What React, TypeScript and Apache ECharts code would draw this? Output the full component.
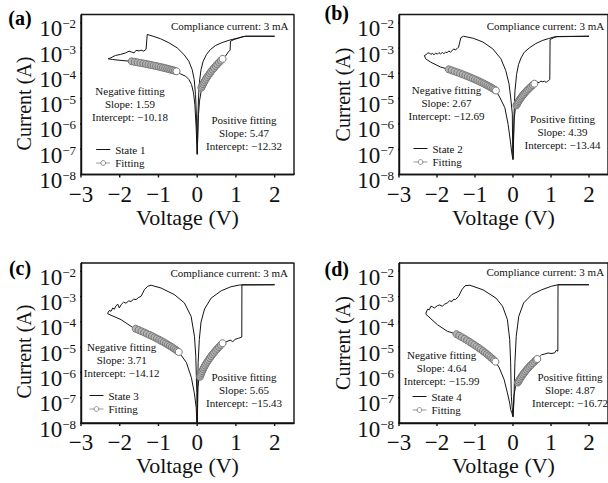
import React, { useEffect, useRef } from "react";
import * as echarts from "echarts";

// ---------- data (voltage in V, current given as log10(I / A)) ----------
const xTicks = [-3, -2, -1, 0, 1, 2];
const yTickExps = [-2, -3, -4, -5, -6, -7, -8];

const state1V = [0, 0.017, 0.034, 0.06, 0.095, 0.13, 0.203, 0.292, 0.397, 0.518, 0.608, 0.656, 0.73, 0.8, 0.85, 0.86, 0.95, 1.06, 1.16, 1.25, 2.0, 1.25, 1.0, 0.82, 0.645, 0.47, 0.34, 0.24, 0.155, 0.1, 0.06, 0.034, 0.017, 0.004, -0.004, -0.017, -0.043, -0.077, -0.13, -0.215, -0.344, -0.516, -0.73, -0.946, -1.12, -1.29, -1.32, -1.38, -1.45, -1.5, -1.58, -1.63, -1.7, -1.76, -1.85, -1.98, -2.11, -2.24, -2.3, -2.19, -1.94, -1.69, -1.464, -1.254, -1.0, -0.774, -0.533, -0.43, -0.3, -0.215, -0.146, -0.095, -0.06, -0.026, 0];
const state1LogI = [-7.2, -6.42, -5.63, -5.1, -4.77, -4.495, -4.282, -4.068, -3.854, -3.64, -3.498, -3.426, -3.32, -3.16, -3.08, -2.73, -2.66, -2.61, -2.55, -2.53, -2.53, -2.53, -2.62, -2.69, -2.78, -2.9, -3.06, -3.25, -3.52, -3.85, -4.31, -4.97, -5.89, -7.2, -7.2, -5.76, -4.84, -4.24, -3.85, -3.52, -3.25, -2.99, -2.79, -2.63, -2.54, -2.46, -3.05, -3.12, -3.08, -3.11, -3.09, -3.19, -3.15, -3.12, -3.19, -3.25, -3.29, -3.39, -3.42, -3.45, -3.49, -3.523, -3.586, -3.648, -3.731, -3.814, -3.917, -4.02, -4.11, -4.24, -4.44, -4.77, -5.23, -6.16, -7.2];

const state2V = [0, 0.017, 0.034, 0.06, 0.09, 0.13, 0.203, 0.292, 0.397, 0.476, 0.563, 0.64, 0.685, 0.73, 0.77, 0.83, 0.874, 0.91, 0.94, 0.968, 0.976, 1.07, 1.16, 2.0, 1.1, 0.94, 0.77, 0.6, 0.43, 0.3, 0.21, 0.146, 0.094, 0.051, 0.026, 0.009, 0, -0.009, -0.018, -0.062, -0.105, -0.19, -0.319, -0.532, -0.789, -1.046, -1.303, -1.373, -1.432, -1.47, -1.52, -1.56, -1.6, -1.648, -1.69, -1.73, -1.776, -1.82, -1.86, -1.905, -1.95, -1.99, -2.033, -2.08, -2.12, -2.162, -2.2, -2.247, -2.29, -2.332, -2.3, -2.16, -1.905, -1.69, -1.464, -1.254, -1.0, -0.774, -0.578, -0.449, -0.34, -0.214, -0.128, -0.069, -0.026, 0];
const state2LogI = [-7.34, -6.42, -5.76, -5.43, -5.265, -5.151, -4.979, -4.807, -4.636, -4.521, -4.407, -4.34, -4.37, -4.3, -4.33, -4.31, -4.36, -4.3, -4.28, -4.24, -2.66, -2.59, -2.54, -2.53, -2.55, -2.62, -2.7, -2.82, -2.99, -3.16, -3.39, -3.65, -4.04, -4.7, -5.63, -7.21, -7.41, -7.0, -5.6, -4.94, -4.41, -3.89, -3.42, -3.03, -2.76, -2.61, -2.53, -2.59, -2.96, -3.02, -3.07, -3.03, -3.1, -3.16, -3.11, -3.18, -3.16, -3.22, -3.17, -3.23, -3.18, -3.24, -3.2, -3.26, -3.21, -3.25, -3.19, -3.2, -3.26, -3.29, -3.42, -3.56, -3.75, -3.84, -3.96, -4.079, -4.239, -4.399, -4.558, -4.678, -4.97, -5.36, -6.02, -6.68, -7.21, -7.41];

const state3V = [0, 0.02, 0.04, 0.073, 0.13, 0.203, 0.292, 0.397, 0.518, 0.656, 0.765, 0.85, 0.92, 0.98, 1.065, 1.134, 1.152, 1.155, 2.0, 1.1, 0.87, 0.62, 0.36, 0.19, 0.1, 0.055, 0.025, 0.008, 0, -0.01, -0.036, -0.07, -0.157, -0.33, -0.589, -0.933, -1.19, -1.277, -1.364, -1.406, -1.45, -1.52, -1.579, -1.64, -1.708, -1.77, -1.84, -1.9, -1.966, -2.01, -2.05, -2.096, -2.14, -2.18, -2.225, -2.27, -2.31, -2.31, -1.966, -1.664, -1.513, -1.3, -1.04, -0.81, -0.608, -0.476, -0.28, -0.15, -0.07, -0.025, 0];
const state3LogI = [-8.3, -6.6, -6.3, -6.169, -5.948, -5.727, -5.506, -5.285, -5.064, -4.844, -4.78, -4.72, -4.78, -4.69, -4.65, -4.61, -4.6, -2.53, -2.53, -2.54, -2.61, -2.77, -3.06, -3.49, -4.0, -4.7, -5.6, -7.0, -8.3, -6.8, -5.36, -4.57, -3.78, -3.25, -2.92, -2.66, -2.55, -2.59, -2.73, -2.86, -2.99, -3.04, -3.12, -3.1, -3.19, -3.17, -3.26, -3.22, -3.32, -3.45, -3.3, -3.36, -3.5, -3.45, -3.58, -3.55, -3.65, -3.68, -3.91, -4.22, -4.32, -4.465, -4.659, -4.852, -5.046, -5.191, -5.6, -6.2, -6.85, -7.4, -8.3];

const state4V = [0, 0.023, 0.067, 0.13, 0.203, 0.292, 0.397, 0.518, 0.64, 0.753, 0.84, 0.923, 1.0, 1.095, 1.139, 1.18, 1.185, 2.0, 1.18, 1.01, 0.753, 0.496, 0.28, 0.152, 0.085, 0.05, 0.023, 0, -0.02, -0.044, -0.062, -0.087, -0.147, -0.275, -0.447, -0.79, -1.134, -1.262, -1.347, -1.39, -1.432, -1.519, -1.56, -1.604, -1.67, -1.73, -1.8, -1.86, -1.93, -1.99, -2.07, -2.12, -2.16, -2.203, -2.25, -2.29, -2.29, -1.99, -1.73, -1.488, -1.277, -1.082, -0.903, -0.74, -0.593, -0.462, -0.36, -0.234, -0.147, -0.087, -0.062, -0.03, 0];
const state4LogI = [-7.75, -6.94, -6.55, -6.4, -6.21, -6.019, -5.829, -5.639, -5.469, -5.3, -5.27, -5.23, -5.25, -5.23, -5.12, -5.16, -2.53, -2.53, -2.53, -2.59, -2.73, -2.92, -3.25, -3.78, -4.57, -5.62, -7.21, -7.75, -7.4, -6.94, -5.62, -4.7, -3.91, -3.38, -3.06, -2.73, -2.55, -2.57, -2.73, -2.86, -2.99, -3.12, -3.1, -3.19, -3.17, -3.25, -3.3, -3.38, -3.33, -3.36, -3.45, -3.4, -3.38, -3.52, -3.5, -3.65, -3.7, -4.11, -4.37, -4.486, -4.667, -4.849, -5.03, -5.211, -5.393, -5.574, -5.82, -6.28, -6.81, -7.21, -7.47, -7.6, -7.75];

const fit1NegV = [-1.69, -1.613, -1.538, -1.464, -1.392, -1.323, -1.254, -1.188, -1.124, -1.061, -1.0, -0.941, -0.884, -0.828, -0.774, -0.723, -0.672, -0.624, -0.578, -0.533];
const fit1NegLogI = [-3.523, -3.544, -3.565, -3.586, -3.606, -3.627, -3.648, -3.669, -3.689, -3.71, -3.731, -3.751, -3.772, -3.793, -3.814, -3.834, -3.855, -3.876, -3.896, -3.917];
const fit1PosV = [0.109, 0.13, 0.152, 0.176, 0.203, 0.23, 0.26, 0.292, 0.325, 0.36, 0.397, 0.436, 0.476, 0.518, 0.563, 0.608, 0.656];
const fit1PosLogI = [-4.567, -4.495, -4.424, -4.353, -4.282, -4.21, -4.139, -4.068, -3.996, -3.925, -3.854, -3.783, -3.711, -3.64, -3.569, -3.498, -3.426];

const fit2NegV = [-1.69, -1.613, -1.538, -1.464, -1.392, -1.323, -1.254, -1.188, -1.124, -1.061, -1.0, -0.941, -0.884, -0.828, -0.774, -0.723, -0.672, -0.624, -0.578, -0.533, -0.49, -0.449];
const fit2NegLogI = [-3.84, -3.88, -3.92, -3.96, -3.999, -4.039, -4.079, -4.119, -4.159, -4.199, -4.239, -4.279, -4.319, -4.359, -4.399, -4.439, -4.479, -4.519, -4.558, -4.598, -4.638, -4.678];
const fit2PosV = [0.09, 0.109, 0.13, 0.152, 0.176, 0.203, 0.23, 0.26, 0.292, 0.325, 0.36, 0.397, 0.436, 0.476, 0.518, 0.563];
const fit2PosLogI = [-5.265, -5.208, -5.151, -5.093, -5.036, -4.979, -4.922, -4.865, -4.807, -4.75, -4.693, -4.636, -4.579, -4.521, -4.464, -4.407];

const fit3NegV = [-1.588, -1.513, -1.44, -1.369, -1.3, -1.232, -1.166, -1.103, -1.04, -0.98, -0.922, -0.865, -0.81, -0.757, -0.706, -0.656, -0.608, -0.563, -0.518, -0.476];
const fit3NegLogI = [-4.272, -4.32, -4.369, -4.417, -4.465, -4.514, -4.562, -4.61, -4.659, -4.707, -4.755, -4.804, -4.852, -4.901, -4.949, -4.997, -5.046, -5.094, -5.142, -5.191];
const fit3PosV = [0.073, 0.09, 0.109, 0.13, 0.152, 0.176, 0.203, 0.23, 0.26, 0.292, 0.325, 0.36, 0.397, 0.436, 0.476, 0.518, 0.563, 0.608, 0.656];
const fit3PosLogI = [-6.169, -6.095, -6.021, -5.948, -5.874, -5.8, -5.727, -5.653, -5.58, -5.506, -5.432, -5.359, -5.285, -5.212, -5.138, -5.064, -4.991, -4.917, -4.844];

const fit4NegV = [-1.488, -1.416, -1.346, -1.277, -1.21, -1.145, -1.082, -1.02, -0.96, -0.903, -0.846, -0.792, -0.74, -0.689, -0.64, -0.593, -0.548, -0.504, -0.462];
const fit4NegLogI = [-4.486, -4.546, -4.607, -4.667, -4.728, -4.788, -4.849, -4.909, -4.97, -5.03, -5.09, -5.151, -5.211, -5.272, -5.332, -5.393, -5.453, -5.514, -5.574];
const fit4PosV = [0.13, 0.152, 0.176, 0.203, 0.23, 0.26, 0.292, 0.325, 0.36, 0.397, 0.436, 0.476, 0.518, 0.563, 0.608, 0.64];
const fit4PosLogI = [-6.4, -6.337, -6.273, -6.21, -6.146, -6.083, -6.019, -5.956, -5.892, -5.829, -5.766, -5.702, -5.639, -5.575, -5.512, -5.469];

const stateNames = ["State 1", "State 2", "State 3", "State 4"];
const panelTags = ["(a)", "(b)", "(c)", "(d)"];
const negSlopes = ["1.59", "2.67", "3.71", "4.64"];
const negIntercepts = ["\u221210.18", "\u221212.69", "\u221214.12", "\u221215.99"];
const posSlopes = ["5.47", "4.39", "5.65", "4.87"];
const posIntercepts = ["\u221212.32", "\u221213.44", "\u221215.43", "\u221216.72"];
const complianceText = "Compliance current: 3 mA";

// ---------- layout ----------
const FONT = "Liberation Serif, Times New Roman, serif";
const LINE = "#000000";
const X_MIN = -3;
const X_MAX = 2.5;
const Y_MIN_EXP = -8;
const Y_MAX_EXP = -1.67;
const TICK_PX = 3;
const layout = [
  { grid: { left: 81, top: 14.5, width: 213, height: 160 }, nameGap: 47, namePad: [0, 18, 0, 0], tag: [20, 17.5], comp: [229.7, 26], neg: [130, 91], pos: [244, 120], legend: [95.7, 143] },
  { grid: { left: 399, top: 14.5, width: 214, height: 160 }, nameGap: 43, namePad: [0, 0, 0, 0], tag: [336.7, 12.5], comp: [545.5, 25.5], neg: [446.5, 90], pos: [562.5, 119], legend: [413, 142] },
  { grid: { left: 81, top: 263, width: 213, height: 160 }, nameGap: 47, namePad: [0, 17, 0, 0], tag: [20, 267.5], comp: [229.2, 273], neg: [121.7, 346.5], pos: [244, 376.5], legend: [89, 389] },
  { grid: { left: 399, top: 263, width: 214, height: 160 }, nameGap: 43, namePad: [11, 0, 0, 0], tag: [336.7, 268.5], comp: [545.3, 272], neg: [441.7, 354.5], pos: [570, 376.7], legend: [412, 390] },
];

const pairs = (vs: number[], ls: number[]) =>
  vs.map((v, i) => (i === vs.length - 1 ? { value: [v, Math.pow(10, ls[i])], itemStyle: { color: "#ffffff" } } : [v, Math.pow(10, ls[i])]));
const linePairs = (vs: number[], ls: number[]) => vs.map((v, i) => [v, Math.pow(10, ls[i])]);

// plot-box outline with outward tick marks, expressed in the axes' own units
function framePath(W: number, H: number) {
  const dx = (TICK_PX * (X_MAX - X_MIN)) / W;
  const dy = (TICK_PX * (Y_MAX_EXP - Y_MIN_EXP)) / H;
  const top = Math.pow(10, Y_MAX_EXP);
  const bot = Math.pow(10, Y_MIN_EXP);
  const pts: number[][] = [[X_MIN, top]];
  yTickExps.forEach((e) => {
    const y = Math.pow(10, e);
    pts.push([X_MIN, y], [X_MIN - dx, y], [X_MIN, y]);
  });
  xTicks.forEach((t) => {
    pts.push([t, bot], [t, Math.pow(10, Y_MIN_EXP - dy)], [t, bot]);
  });
  pts.push([X_MAX, bot], [X_MAX, top], [X_MIN, top]);
  return pts;
}

export default function App() {
  const ref = useRef<HTMLDivElement>(null);
  useEffect(() => {
    if (!ref.current) return;
    const chart = echarts.init(ref.current, undefined, { renderer: "svg" });
    const states = [[state1V, state1LogI], [state2V, state2LogI], [state3V, state3LogI], [state4V, state4LogI]];
    const fitsNeg = [[fit1NegV, fit1NegLogI], [fit2NegV, fit2NegLogI], [fit3NegV, fit3NegLogI], [fit4NegV, fit4NegLogI]];
    const fitsPos = [[fit1PosV, fit1PosLogI], [fit2PosV, fit2PosLogI], [fit3PosV, fit3PosLogI], [fit4PosV, fit4PosLogI]];

    const grids: any[] = [];
    const xAxes: any[] = [];
    const yAxes: any[] = [];
    const series: any[] = [];
    const legends: any[] = [];
    const graphics: any[] = [];

    const fitStyle = {
      symbol: "circle",
      symbolSize: 7,
      itemStyle: { color: "#b4b4b4", borderColor: "#777777", borderWidth: 1 },
      lineStyle: { color: "#a4a4a4", width: 6 },
    };

    layout.forEach((L, i) => {
      grids.push({ ...L.grid });
      xAxes.push({
        type: "value", gridIndex: i, min: X_MIN, max: X_MAX, interval: 1,
        axisLine: { show: true, onZero: false, lineStyle: { color: LINE, width: 1.4 } },
        axisTick: { show: false },
        axisLabel: {
          showMaxLabel: false, margin: 8, color: "#111", fontFamily: FONT, fontSize: 23,
          formatter: (v: number) => (xTicks.indexOf(v) < 0 ? "" : v < 0 ? "\u2212" + Math.abs(v) : String(v)),
        },
        splitLine: { show: false },
        name: "Voltage (V)", nameLocation: "middle", nameGap: 27,
        nameTextStyle: { fontFamily: FONT, fontSize: 22, color: "#111" },
      });
      yAxes.push({
        type: "log", logBase: 10, gridIndex: i, min: Math.pow(10, Y_MIN_EXP), max: Math.pow(10, Y_MAX_EXP),
        axisLine: { show: true, onZero: false, lineStyle: { color: LINE, width: 1.4 } },
        axisTick: { show: false },
        axisLabel: {
          showMaxLabel: false, margin: 5, color: "#111", padding: [12, 0, 0, 0],
          formatter: (v: number) => {
            const e = Math.round(Math.log10(v));
            if (yTickExps.indexOf(e) < 0 || Math.abs(Math.log10(v) - e) > 0.01) return "";
            return "{b|10}{s|\u2212" + Math.abs(e) + "}";
          },
          rich: {
            b: { fontFamily: FONT, fontSize: 23, lineHeight: 23, color: "#111" },
            s: { fontFamily: FONT, fontSize: 13, lineHeight: 13, verticalAlign: "top", color: "#111" },
          },
        },
        splitLine: { show: false },
        name: "Current (A)", nameLocation: "middle", nameGap: L.nameGap,
        nameTextStyle: { fontFamily: FONT, fontSize: 20, color: "#111", padding: L.namePad },
      });
      // plot frame with outward ticks
      series.push({
        name: "frame" + i, type: "line", xAxisIndex: i, yAxisIndex: i, data: framePath(L.grid.width, L.grid.height),
        symbol: "none", showSymbol: false, clip: false, z: 6,
        lineStyle: { color: "#141414", width: 1.4 }, itemStyle: { color: "#141414" },
      });
      const [sv, sl] = states[i];
      series.push({
        name: stateNames[i], type: "line", xAxisIndex: i, yAxisIndex: i,
        data: linePairs(sv, sl), symbol: "none", showSymbol: false,
        lineStyle: { color: "#141414", width: 1 }, itemStyle: { color: "#141414" }, z: 2,
      });
      const [nv, nl] = fitsNeg[i];
      const [pv, pl] = fitsPos[i];
      series.push({ name: "Fitting", type: "line", xAxisIndex: i, yAxisIndex: i, data: pairs(nv, nl), z: 3, ...fitStyle });
      series.push({ name: "Fitting", type: "line", xAxisIndex: i, yAxisIndex: i, data: pairs(pv, pl), z: 3, ...fitStyle });
      legends.push({
        data: [
          { name: stateNames[i], icon: "path://M0,0H14V1H0Z", itemStyle: { color: "#141414" } },
          { name: "Fitting", itemStyle: { color: "#ffffff", borderColor: "#8a8a8a", borderWidth: 1 }, lineStyle: { color: "#9a9a9a", width: 1 } },
        ],
        orient: "vertical", left: L.legend[0], top: L.legend[1],
        itemWidth: 14, itemHeight: 6, itemGap: 0.5, padding: 0, selectedMode: false,
        textStyle: { fontFamily: FONT, fontSize: 11, color: "#111", lineHeight: 13 },
      });
      graphics.push({
        type: "text", x: L.comp[0], y: L.comp[1], z: 50,
        style: { text: complianceText, fill: "#111", fontFamily: FONT, fontSize: 11, textAlign: "center", align: "center", textVerticalAlign: "middle", verticalAlign: "middle" },
      });
      graphics.push({
        type: "text", x: L.neg[0], y: L.neg[1] - 6.5, z: 50,
        style: { text: `Negative fitting\nSlope: ${negSlopes[i]}\nIntercept: ${negIntercepts[i]}`, fill: "#111", fontFamily: FONT, fontSize: 11, lineHeight: 13, textAlign: "center", align: "center", textVerticalAlign: "top", verticalAlign: "top" },
      });
      graphics.push({
        type: "text", x: L.pos[0], y: L.pos[1] - 6.5, z: 50,
        style: { text: `Positive fitting\nSlope: ${posSlopes[i]}\nIntercept: ${posIntercepts[i]}`, fill: "#111", fontFamily: FONT, fontSize: 11, lineHeight: 13, textAlign: "center", align: "center", textVerticalAlign: "top", verticalAlign: "top" },
      });
      graphics.push({
        type: "text", x: L.tag[0], y: L.tag[1], z: 50,
        style: { text: panelTags[i], fill: "#000", fontFamily: FONT, fontSize: 20, fontWeight: "bold", textAlign: "center", align: "center", textVerticalAlign: "middle", verticalAlign: "middle" },
      });
    });

    chart.setOption({
      animation: false,
      grid: grids,
      xAxis: xAxes,
      yAxis: yAxes,
      legend: legends,
      series,
      graphic: { elements: graphics },
    });
    return () => chart.dispose();
  }, []);
  return <div ref={ref} style={{ position: "fixed", left: 0, top: 0, width: 608, height: 483, background: "#fff" }} />;
}
